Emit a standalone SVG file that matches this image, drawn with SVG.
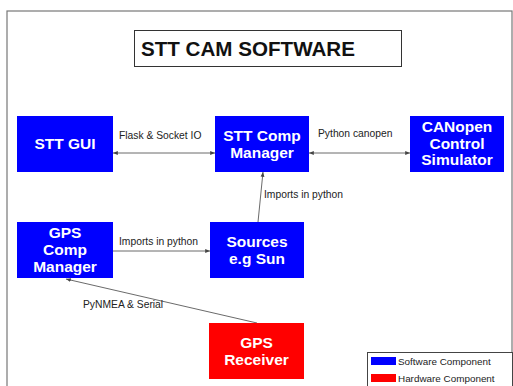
<svg xmlns="http://www.w3.org/2000/svg" width="513" height="386" viewBox="0 0 513 386">
<defs>
<style>
.sw{fill:#0000ff}
.hw{fill:#ff0000}
.nt{font-family:"Liberation Sans",Arial,sans-serif;font-weight:bold;font-size:15.5px;fill:#fff;text-anchor:middle}
.lb{font-family:"Liberation Sans",Arial,sans-serif;font-size:10.3px;fill:#222}
.lg{font-family:"Liberation Sans",Arial,sans-serif;font-size:9.9px;fill:#222}
.cn{stroke:#444;stroke-width:0.8;fill:none}
</style>
<marker id="ah" viewBox="0 0 10 10" refX="10" refY="5" markerWidth="6" markerHeight="6" orient="auto-start-reverse">
<path d="M0,1 L10,5 L0,9 z" fill="#444"/>
</marker>
</defs>
<rect x="0" y="0" width="513" height="386" fill="#fff"/>
<rect x="7" y="11" width="505" height="380" fill="none" stroke="#777" stroke-width="1.2"/>
<g id="title">
<rect x="134.5" y="30.5" width="267" height="36" fill="#fff" stroke="#333" stroke-width="1"/>
<text x="141" y="56" font-family="'Liberation Sans',Arial,sans-serif" font-weight="bold" font-size="20.6" fill="#111">STT CAM SOFTWARE</text>
</g>
<g id="connectors">
<line class="cn" x1="113" y1="153" x2="215" y2="153" marker-start="url(#ah)" marker-end="url(#ah)"/>
<text class="lb" x="119" y="139">Flask &amp; Socket IO</text>
<line class="cn" x1="309" y1="153" x2="410" y2="153" marker-start="url(#ah)" marker-end="url(#ah)"/>
<text class="lb" x="318" y="137">Python canopen</text>
<line class="cn" x1="258" y1="222" x2="263" y2="172" marker-end="url(#ah)"/>
<text class="lb" x="264" y="198">Imports in python</text>
<line class="cn" x1="113" y1="251" x2="210" y2="251" marker-end="url(#ah)"/>
<text class="lb" x="119" y="245">Imports in python</text>
<line class="cn" x1="257" y1="323" x2="66" y2="279" marker-end="url(#ah)"/>
<text class="lb" x="83" y="308">PyNMEA &amp; Serial</text>
</g>
<g id="stt-gui">
<rect class="sw" x="17" y="116" width="96" height="56"/>
<text class="nt" x="65" y="149">STT GUI</text>
</g>
<g id="stt-comp-manager">
<rect class="sw" x="215" y="116" width="94" height="56"/>
<text class="nt" x="262" y="141">STT Comp</text>
<text class="nt" x="262" y="158">Manager</text>
</g>
<g id="canopen">
<rect class="sw" x="410" y="116" width="94" height="56"/>
<text class="nt" x="457" y="132">CANopen</text>
<text class="nt" x="457" y="148.5">Control</text>
<text class="nt" x="457" y="165">Simulator</text>
</g>
<g id="gps-comp-manager">
<rect class="sw" x="17" y="222" width="96" height="56"/>
<text class="nt" x="65" y="238">GPS</text>
<text class="nt" x="65" y="255">Comp</text>
<text class="nt" x="65" y="272">Manager</text>
</g>
<g id="sources">
<rect class="sw" x="210" y="222" width="94" height="56"/>
<text class="nt" x="257" y="247">Sources</text>
<text class="nt" x="257" y="264">e.g Sun</text>
</g>
<g id="gps-receiver">
<rect class="hw" x="209" y="323" width="95" height="56"/>
<text class="nt" x="256.5" y="348">GPS</text>
<text class="nt" x="256.5" y="365">Receiver</text>
</g>
<g id="legend">
<rect x="367.5" y="352.5" width="145" height="40" fill="#fff" stroke="#444" stroke-width="1"/>
<rect class="sw" x="371" y="357" width="25" height="8"/>
<text class="lg" x="398" y="364.5">Software Component</text>
<rect class="hw" x="371" y="374" width="25" height="8"/>
<text class="lg" x="398" y="381.5">Hardware Component</text>
</g>
</svg>
